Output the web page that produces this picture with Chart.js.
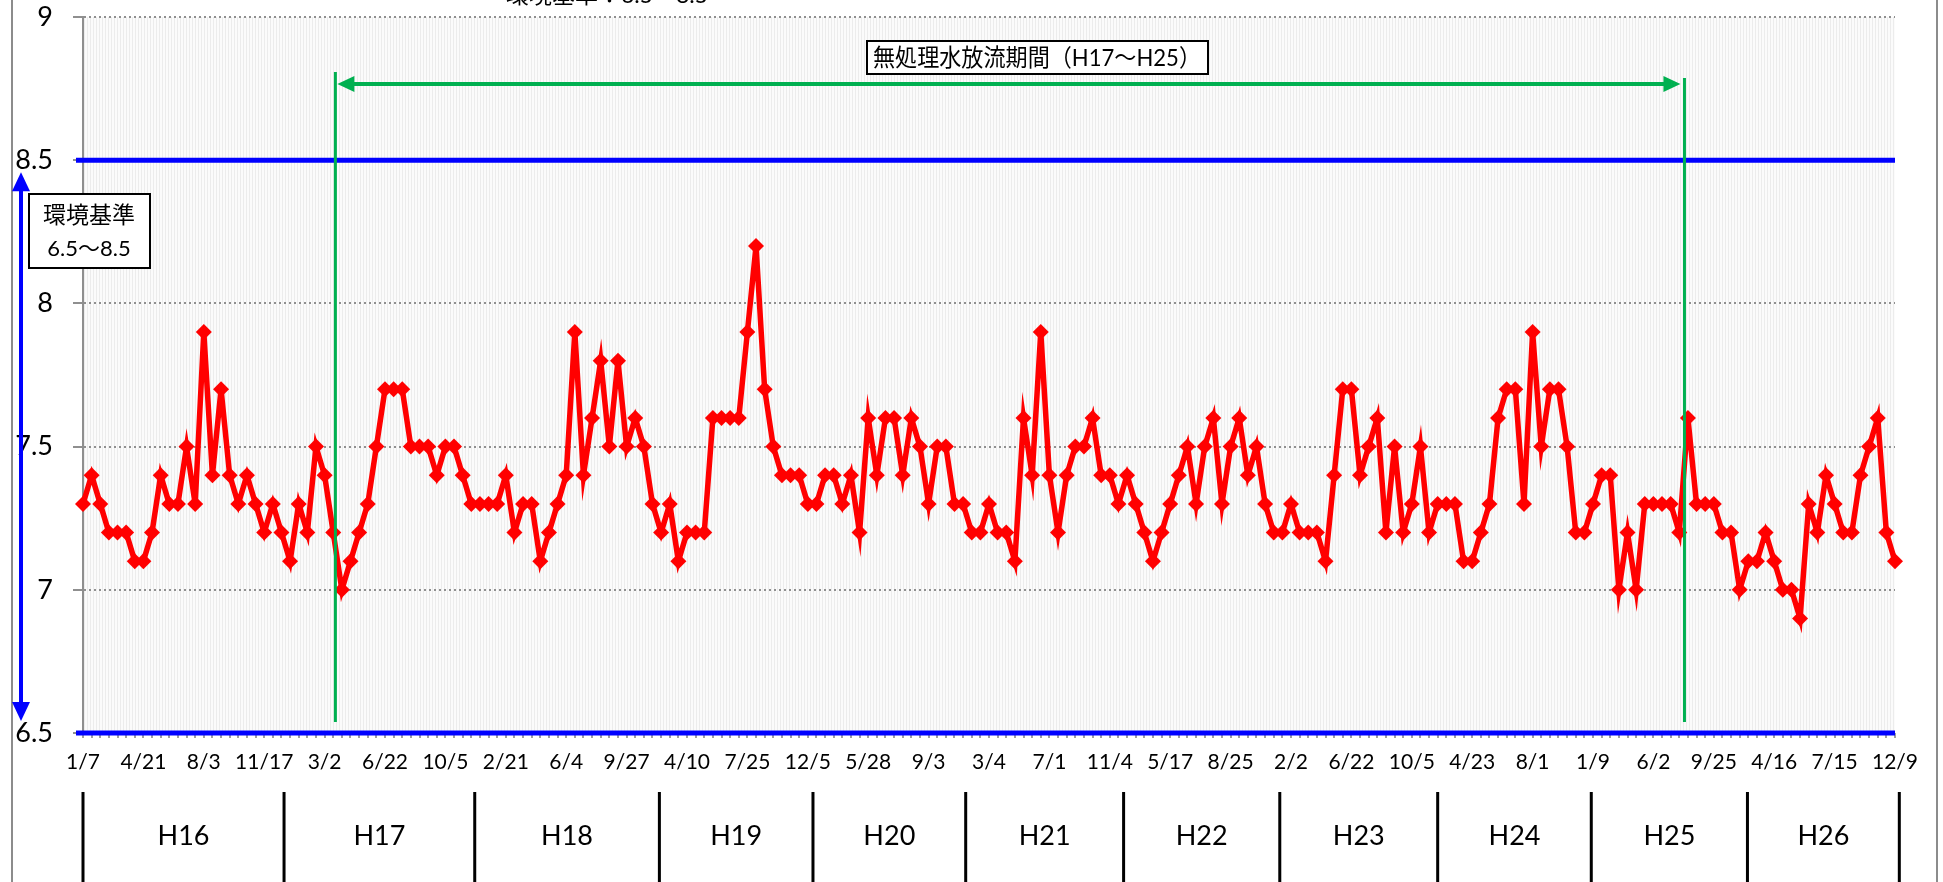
<!DOCTYPE html>
<html>
<head>
<meta charset="utf-8">
<script src="https://cdn.jsdelivr.net/npm/chart.js@4.4.0/dist/chart.umd.min.js"></script>
<style>
html, body { margin: 0; padding: 0; background: #fff; }
#wrap { position: relative; width: 1943px; height: 882px; }
</style>
</head>
<body>
<div id="wrap"><canvas id="chart" width="1943" height="882"></canvas></div>
<script>
// pH 測定値 (H16.1/7 ～ H26.12/9)
var phValues = [
	7.3, 7.4, 7.3, 7.2, 7.2, 7.2, 7.1, 7.1, 7.2, 7.4,
	7.3, 7.3, 7.5, 7.3, 7.9, 7.4, 7.7, 7.4, 7.3, 7.4,
	7.3, 7.2, 7.3, 7.2, 7.1, 7.3, 7.2, 7.5, 7.4, 7.2,
	7.0, 7.1, 7.2, 7.3, 7.5, 7.7, 7.7, 7.7, 7.5, 7.5,
	7.5, 7.4, 7.5, 7.5, 7.4, 7.3, 7.3, 7.3, 7.3, 7.4,
	7.2, 7.3, 7.3, 7.1, 7.2, 7.3, 7.4, 7.9, 7.4, 7.6,
	7.8, 7.5, 7.8, 7.5, 7.6, 7.5, 7.3, 7.2, 7.3, 7.1,
	7.2, 7.2, 7.2, 7.6, 7.6, 7.6, 7.6, 7.9, 8.2, 7.7,
	7.5, 7.4, 7.4, 7.4, 7.3, 7.3, 7.4, 7.4, 7.3, 7.4,
	7.2, 7.6, 7.4, 7.6, 7.6, 7.4, 7.6, 7.5, 7.3, 7.5,
	7.5, 7.3, 7.3, 7.2, 7.2, 7.3, 7.2, 7.2, 7.1, 7.6,
	7.4, 7.9, 7.4, 7.2, 7.4, 7.5, 7.5, 7.6, 7.4, 7.4,
	7.3, 7.4, 7.3, 7.2, 7.1, 7.2, 7.3, 7.4, 7.5, 7.3,
	7.5, 7.6, 7.3, 7.5, 7.6, 7.4, 7.5, 7.3, 7.2, 7.2,
	7.3, 7.2, 7.2, 7.2, 7.1, 7.4, 7.7, 7.7, 7.4, 7.5,
	7.6, 7.2, 7.5, 7.2, 7.3, 7.5, 7.2, 7.3, 7.3, 7.3,
	7.1, 7.1, 7.2, 7.3, 7.6, 7.7, 7.7, 7.3, 7.9, 7.5,
	7.7, 7.7, 7.5, 7.2, 7.2, 7.3, 7.4, 7.4, 7.0, 7.2,
	7.0, 7.3, 7.3, 7.3, 7.3, 7.2, 7.6, 7.3, 7.3, 7.3,
	7.2, 7.2, 7.0, 7.1, 7.1, 7.2, 7.1, 7.0, 7.0, 6.9,
	7.3, 7.2, 7.4, 7.3, 7.2, 7.2, 7.4, 7.5, 7.6, 7.2, 7.1
];

// 7回ごとの日付ラベル
var dateLabels = ['1/7', '4/21', '8/3', '11/17', '3/2', '6/22', '10/5', '2/21', '6/4', '9/27',
	'4/10', '7/25', '12/5', '5/28', '9/3', '3/4', '7/1', '11/4', '5/17', '8/25',
	'2/2', '6/22', '10/5', '4/23', '8/1', '1/9', '6/2', '9/25', '4/16', '7/15', '12/9'];
var labelStep = 7;

// 年度
var yearNames = ['H16', 'H17', 'H18', 'H19', 'H20', 'H21', 'H22', 'H23', 'H24', 'H25', 'H26'];
var yearBounds = [0, 23.3, 45.4, 66.8, 84.6, 102.3, 120.6, 138.7, 157, 174.8, 192.9, 210.5];

// 環境基準
var standardUpper = 8.5;
var standardLower = 6.5;

// 無処理水放流期間
var periodStart = 29.25;
var periodEnd = 185.6;

var fontFamily = 'Lato, "Noto Sans CJK JP", sans-serif';
var categories = phValues.map(function(v, i) { return i; });

var stripe = document.createElement('canvas');
stripe.width = 3;
stripe.height = 1;
var sctx = stripe.getContext('2d');
sctx.fillStyle = '#fbfbfb';
sctx.fillRect(0, 0, 3, 1);
sctx.fillStyle = '#ececec';
sctx.fillRect(0, 0, 1, 1);

function arrowHead(ctx, x, y, dx, dy, len, half) {
	// dx,dy : 向き
	var px = -dy, py = dx;
	ctx.beginPath();
	ctx.moveTo(x, y);
	ctx.lineTo(x - dx * len + px * half, y - dy * len + py * half);
	ctx.lineTo(x - dx * len - px * half, y - dy * len - py * half);
	ctx.closePath();
	ctx.fill();
}

function textBox(ctx, x1, y1, x2, y2) {
	ctx.fillStyle = '#fff';
	ctx.fillRect(x1, y1, x2 - x1, y2 - y1);
	ctx.strokeStyle = '#000';
	ctx.lineWidth = 2;
	ctx.strokeRect(x1, y1, x2 - x1, y2 - y1);
}

var decorPlugin = {
	id: 'decor',
	beforeDraw: function(chart) {
		var ctx = chart.ctx, a = chart.chartArea;
		ctx.save();
		ctx.fillStyle = ctx.createPattern(stripe, 'repeat');
		ctx.fillRect(a.left, a.top, a.right - a.left, a.bottom - a.top);
		ctx.strokeStyle = '#8c8c8c';
		ctx.lineWidth = 2;
		ctx.beginPath();
		ctx.moveTo(12, 0); ctx.lineTo(12, chart.height);
		ctx.moveTo(1937, 0); ctx.lineTo(1937, chart.height);
		ctx.stroke();
		ctx.restore();
	},
	beforeDatasetsDraw: function(chart) {
		var ctx = chart.ctx, a = chart.chartArea, y = chart.scales.y;
		ctx.save();
		ctx.strokeStyle = '#0000ff';
		ctx.lineWidth = 5;
		ctx.beginPath();
		[standardUpper, standardLower].forEach(function(v) {
			var py = y.getPixelForValue(v);
			ctx.moveTo(a.left - 7, py);
			ctx.lineTo(a.right, py);
		});
		ctx.stroke();
		ctx.restore();
	},
	afterDraw: function(chart) {
		var ctx = chart.ctx, a = chart.chartArea;
		var x = chart.scales.x, y = chart.scales.y;
		ctx.save();

		// 上部のタイトル (見切れ)
		ctx.fillStyle = '#000';
		ctx.font = '23px ' + fontFamily;
		ctx.textAlign = 'center';
		ctx.textBaseline = 'middle';
		ctx.fillText('環境基準：6.5～8.5', 607, -4);

		// 無処理水放流期間
		var xs = x.getPixelForValue(periodStart);
		var xe = x.getPixelForValue(periodEnd);
		var yb = y.getPixelForValue(standardLower) - 11;
		ctx.strokeStyle = '#00b050';
		ctx.fillStyle = '#00b050';
		ctx.lineWidth = 3;
		ctx.beginPath();
		ctx.moveTo(xs, 72); ctx.lineTo(xs, yb);
		ctx.moveTo(xe, 78); ctx.lineTo(xe, yb);
		ctx.stroke();
		ctx.lineWidth = 4;
		ctx.beginPath();
		ctx.moveTo(xs + 14, 84); ctx.lineTo(xe - 18, 84);
		ctx.stroke();
		arrowHead(ctx, xs + 2, 84, -1, 0, 17, 8);
		arrowHead(ctx, xe - 4, 84, 1, 0, 17, 8);

		textBox(ctx, 867, 41, 1208, 74);
		ctx.fillStyle = '#000';
		ctx.font = '24px ' + fontFamily;
		ctx.fillText('無処理水放流期間（H17～H25）', 1037, 58, 328);

		// 環境基準の矢印
		var yt = y.getPixelForValue(standardUpper) + 12;
		var yl = y.getPixelForValue(standardLower) - 12;
		ctx.strokeStyle = '#0000ff';
		ctx.fillStyle = '#0000ff';
		ctx.lineWidth = 4;
		ctx.beginPath();
		ctx.moveTo(21, yt + 15); ctx.lineTo(21, yl - 15);
		ctx.stroke();
		arrowHead(ctx, 21, yt, 0, -1, 19, 9);
		arrowHead(ctx, 21, yl, 0, 1, 19, 9);

		textBox(ctx, 29, 194, 150, 268);
		ctx.fillStyle = '#000';
		ctx.font = '23px ' + fontFamily;
		ctx.fillText('環境基準', 89, 216);
		ctx.font = '22px ' + fontFamily;
		ctx.fillText('6.5～8.5', 89, 249);

		// 年度
		ctx.strokeStyle = '#000';
		ctx.lineWidth = 3;
		ctx.beginPath();
		yearBounds.forEach(function(b) {
			var px = x.getPixelForValue(b);
			ctx.moveTo(px, 792);
			ctx.lineTo(px, chart.height);
		});
		ctx.stroke();
		ctx.font = '27px ' + fontFamily;
		yearNames.forEach(function(n, i) {
			var cx = (x.getPixelForValue(yearBounds[i]) + x.getPixelForValue(yearBounds[i + 1])) / 2;
			ctx.fillText(n, cx, 836);
		});
		ctx.restore();
	}
};

var ctx = document.getElementById('chart').getContext('2d');
var myChart = new Chart(ctx, {
	type: 'line',
	data: {
		labels: categories,
		datasets: [{
			data: phValues,
			borderColor: '#ff0000',
			borderWidth: 5.5,
			pointStyle: 'rectRot',
			pointRadius: 8,
			pointBackgroundColor: '#ff0000',
			pointBorderColor: '#ff0000',
			pointBorderWidth: 0,
			tension: 0
		}]
	},
	options: {
		responsive: false,
		animation: false,
		devicePixelRatio: 1,
		layout: { padding: { top: 17, right: 48, left: 0, bottom: 0 } },
		plugins: {
			legend: { display: false },
			tooltip: { enabled: false }
		},
		scales: {
			x: {
				offset: false,
				afterFit: function(s) { s.height = 149; },
				grid: {
					drawOnChartArea: false,
					tickLength: 5,
					color: '#a0a0a0',
					lineWidth: 2
				},
				border: { display: false },
				ticks: {
					autoSkip: false,
					maxRotation: 0,
					minRotation: 0,
					padding: 12,
					color: '#000',
					font: { family: fontFamily, size: 21 },
					callback: function(value, index) {
						return index % labelStep === 0 ? dateLabels[index / labelStep] : '';
					}
				}
			},
			y: {
				min: 6.5,
				max: 9,
				afterFit: function(s) {
					s.width = 83;
					s.paddingTop = 0;
					s.paddingBottom = 0;
				},
				grid: {
					color: '#8f8f8f',
					lineWidth: 2,
					tickLength: 10,
					tickColor: '#8f8f8f',
					tickWidth: 2
				},
				border: { color: '#8f8f8f', width: 2, dash: [2, 3] },
				ticks: {
					stepSize: 0.5,
					padding: 20,
					color: '#000',
					font: { family: fontFamily, size: 27 },
					callback: function(value) { return String(value); }
				}
			}
		}
	},
	plugins: [decorPlugin]
});
</script>
</body>
</html>
